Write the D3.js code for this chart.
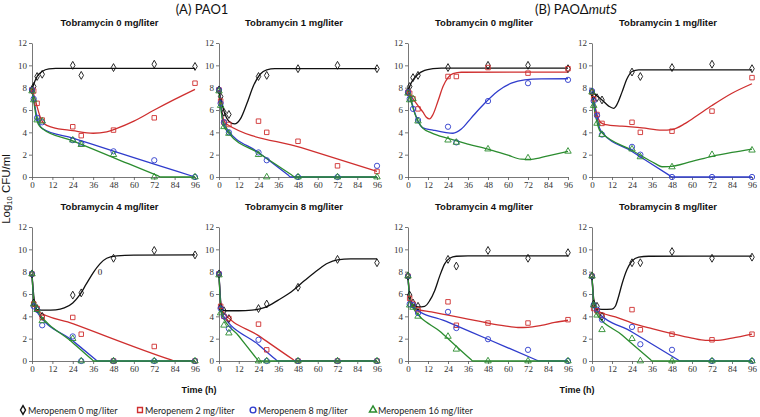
<!DOCTYPE html>
<html><head><meta charset="utf-8">
<script src="https://cdn.jsdelivr.net/npm/d3@7"></script>
<style>
html,body{margin:0;padding:0;background:#fff;}
svg{display:block;}
</style>
</head><body>
<svg id="chart" width="760" height="417"></svg>
<script>
// ---------------- DATA ----------------
const times = [0, 1, 3, 6, 24, 29, 48, 72, 96];
const xTicks = [0, 12, 24, 36, 48, 60, 72, 84, 96];
const yTicks = [0, 2, 4, 6, 8, 10, 12];
const panelTitles = [
  "Tobramycin 0 mg/liter", "Tobramycin 1 mg/liter", "Tobramycin 0 mg/liter", "Tobramycin 1 mg/liter",
  "Tobramycin 4 mg/liter", "Tobramycin 8 mg/liter", "Tobramycin 4 mg/liter", "Tobramycin 8 mg/liter"
];
const seriesNames = ["Meropenem 0 mg/liter", "Meropenem 2 mg/liter", "Meropenem 8 mg/liter", "Meropenem 16 mg/liter"];

// observed log10 CFU/ml per panel (panels: PAO1 T0, PAO1 T1, mutS T0, mutS T1, PAO1 T4, PAO1 T8, mutS T4, mutS T8)
const mer0 = [
  [7.8, 8.1, 9.0, 9.2, 10.0, 9.1, 9.8, 10.1, 9.9],
  [7.8, 7.2, 5.8, 5.6, 9.0, 9.1, 9.7, 10.0, 9.7],
  [7.6, 8.1, 8.9, 9.1, 9.8, null, 10.0, 10.0, 9.7],
  [7.6, 7.3, 7.1, 6.9, 9.4, 9.0, 9.8, 10.1, 9.7],
  [7.8, 5.2, 4.7, 4.0, 5.9, 6.1, 9.2, 9.9, 9.5],
  [7.8, 4.8, 4.5, 3.8, 4.7, 5.1, 6.6, 9.1, 8.8],
  [7.6, 5.9, 5.2, 4.9, 9.1, 8.5, 9.9, 9.2, 9.7],
  [7.6, 5.1, 4.9, 4.0, 8.8, 8.8, 9.8, 9.2, 9.3]
];
const mer2 = [
  [7.8, 7.7, 6.6, 5.1, 4.5, 3.7, 4.2, 5.3, 8.4],
  [7.8, 6.8, 4.9, 4.7, 5.0, 4.0, 3.2, 1.0, 0.5],
  [7.6, 7.5, 7.0, 6.1, 9.0, 9.0, 9.8, 9.3, 9.7],
  [7.6, 7.0, 5.6, 4.8, 4.9, 4.0, 4.1, 5.9, 8.9],
  [7.8, 5.1, 4.7, 3.9, 3.9, 2.4, 0, 1.3, 0],
  [7.8, 4.9, 4.0, 3.8, 3.3, 1.0, 0, 0, 0],
  [7.6, 5.6, 5.1, 4.6, 5.3, 3.2, 3.4, 3.4, 3.7],
  [7.6, 4.7, 4.5, 4.1, 4.6, 2.8, 2.4, 1.9, 2.4]
];
const mer8 = [
  [7.8, 7.0, 5.3, 4.9, 3.3, 3.0, 2.3, 1.5, 0],
  [7.8, 6.6, 4.9, 4.0, 2.2, 1.5, 0, 0, 1.0],
  [7.6, 7.0, 6.1, 5.1, 4.5, 3.1, 6.8, 8.4, 8.7],
  [7.7, 6.8, 5.5, 3.8, 2.7, 2.0, 0, 0, 0],
  [7.8, 4.9, 4.6, 3.2, 2.2, 0, 0, 0, 0],
  [7.8, 4.7, 4.0, 2.9, 1.9, 0, 0, 0, 0],
  [7.6, 5.1, 5.0, 4.3, 4.4, 2.95, 1.95, 1.0, 0],
  [7.6, 5.0, 4.6, 3.7, 3.05, 1.5, 1.0, 0, 0]
];
const mer16 = [
  [7.7, 6.9, 5.1, 5.0, 3.3, 2.9, 2.0, 0, 0],
  [7.7, 6.4, 4.5, 3.9, 2.0, 0, 0, 0, 0],
  [7.5, 6.9, 7.0, 5.0, 3.3, 3.1, 2.5, 1.7, 2.3],
  [7.6, 6.4, 4.8, 3.8, 2.5, 1.8, 0.9, 2.0, 2.4],
  [7.8, 5.1, 4.6, 3.6, 2.0, 0, 0, 0, 0],
  [7.7, 4.3, 3.2, 2.5, 0, 0, 0, 0, 0],
  [7.6, 5.0, 4.8, 4.0, 2.2, 1.05, 0, 0, 0],
  [7.6, 5.0, 4.1, 2.8, 2.0, 0, 0, 0, 0]
];

// fitted curves: [time, log10 CFU/ml] knots per panel
const mer0Fit = [
  [[0,7.8],[1,8.3],[3,9.0],[6,9.45],[10,9.68],[14,9.72],[96,9.72]],
  [[0,7.8],[1,7.1],[3,5.9],[6,5.0],[9.5,4.75],[13,5.2],[17,6.6],[21,8.2],[25,9.2],[29,9.6],[34,9.7],[96,9.7]],
  [[0,7.6],[1,8.1],[3,8.7],[6,9.2],[10,9.55],[15,9.7],[20,9.75],[96,9.75]],
  [[0,7.6],[3,7.25],[6,6.9],[10,6.35],[13,6.15],[15,6.5],[18,7.6],[21,8.8],[24,9.45],[28,9.6],[96,9.6]],
  [[0,7.8],[1,5.9],[2,4.9],[3,4.6],[8,4.55],[14,4.58],[19,4.75],[24,5.2],[28,5.9],[32,6.9],[36,7.9],[40,8.7],[44,9.2],[50,9.42],[60,9.48],[96,9.5]],
  [[0,7.8],[1,5.4],[2,4.6],[4,4.5],[12,4.5],[20,4.55],[28,4.8],[36,5.45],[44,6.2],[52,7.2],[60,8.15],[66,8.75],[72,9.05],[80,9.15],[96,9.15]],
  [[0,7.6],[1,5.8],[3,5.05],[6,4.85],[10,4.9],[13,5.4],[16,6.3],[19,7.6],[22,8.7],[25,9.2],[29,9.38],[36,9.42],[96,9.42]],
  [[0,7.6],[1,5.6],[2.5,4.75],[6,4.62],[12,4.65],[14,4.9],[16,5.8],[18,6.9],[21,8.2],[24,8.95],[28,9.3],[34,9.38],[96,9.4]]
];
const mer2Fit = [
  [[0,7.8],[1,7.4],[3,6.3],[5,5.3],[7,4.8],[12,4.45],[24,4.15],[36,3.92],[44,4.05],[50,4.35],[60,5.0],[72,6.0],[84,6.95],[96,7.85]],
  [[0,7.8],[1,6.6],[2,5.6],[3.5,4.9],[5,4.7],[50,2.62],[96,0.5]],
  [[0,7.6],[3,7.0],[6,6.4],[9,5.8],[11,5.35],[13,5.2],[15,5.6],[18,6.8],[21,8.1],[24,8.9],[27,9.25],[32,9.38],[96,9.4]],
  [[0,7.6],[1,6.9],[3,5.6],[5,4.9],[8,4.7],[18,4.55],[30,4.4],[42,4.2],[48,4.25],[56,4.8],[64,5.6],[72,6.4],[84,7.5],[96,8.35]],
  [[0,7.8],[0.7,6.0],[1.5,4.9],[2.5,4.55],[24,3.35],[82,0.1],[84,0],[96,0]],
  [[0,7.8],[0.6,6.0],[1.6,4.55],[24,2.27],[45,0.13],[46.3,0],[96,0]],
  [[0,7.6],[1,5.8],[2.5,5.0],[5,4.65],[14,4.4],[24,4.1],[36,3.75],[48,3.4],[58,3.15],[66,3.0],[72,3.02],[80,3.2],[88,3.45],[96,3.65]],
  [[0,7.6],[1,5.4],[2.5,4.6],[6,4.3],[14,3.95],[24,3.4],[36,2.9],[48,2.45],[60,2.05],[68,1.85],[74,1.85],[84,2.05],[96,2.4]]
];
const mer8Fit = [
  [[0,7.8],[1,7.0],[3,5.3],[4.5,4.65],[6,4.35],[24,3.48],[48,2.32],[72,1.16],[96,0]],
  [[0,7.8],[1,6.6],[2,5.3],[3,4.7],[4,4.45],[24,2.2],[42,0.17],[43.5,0],[96,0]],
  [[0,7.6],[2,6.8],[4,5.8],[6,5.0],[9,4.4],[15,4.2],[22,4.0],[27,3.92],[32,4.3],[38,5.3],[46,6.6],[54,7.7],[62,8.4],[70,8.7],[80,8.78],[96,8.8]],
  [[0,7.7],[1,6.8],[3,5.4],[4.5,4.4],[6,4.0],[24,2.29],[46,0.19],[48,0],[96,0]],
  [[0,7.8],[0.7,6.0],[1.5,4.8],[2.5,4.5],[24,1.81],[37,0.19],[38.5,0],[96,0]],
  [[0,7.8],[0.6,6.0],[1.6,4.3],[24,1.46],[34.3,0.15],[35.5,0],[96,0]],
  [[0,7.6],[0.8,5.8],[2,4.9],[24,3.49],[48,1.95],[77,0.09],[78.4,0],[96,0]],
  [[0,7.6],[0.8,5.6],[2,4.6],[24,2.6],[51.5,0.11],[52.7,0],[96,0]]
];
const mer16Fit = [
  [[0,7.7],[1,6.8],[3,5.0],[4.5,4.55],[6,4.35],[24,3.23],[48,1.74],[74,0.12],[76,0],[96,0]],
  [[0,7.7],[1,6.3],[2,5.2],[3,4.5],[4.5,4.2],[6,3.9],[24,2.15],[44,0.2],[46,0],[96,0]],
  [[0,7.5],[2,6.7],[4,5.7],[6,5.0],[9,4.35],[14,3.95],[24,3.45],[36,2.95],[48,2.5],[60,1.95],[68,1.6],[74,1.58],[84,1.9],[96,2.3]],
  [[0,7.6],[1,6.4],[3,4.9],[4.5,4.2],[6,3.95],[24,2.4],[38,1.2],[42,0.92],[46,0.93],[60,1.4],[72,1.85],[84,2.2],[96,2.5]],
  [[0,7.8],[0.7,6.0],[1.5,4.85],[3,4.5],[24,1.64],[35.3,0.13],[36.3,0],[96,0]],
  [[0,7.7],[0.6,5.8],[1.5,4.2],[12,2.24],[23.2,0.15],[24,0],[96,0]],
  [[0,7.6],[0.8,5.9],[2,5.0],[20,2.55],[37.8,0.13],[38.8,0],[96,0]],
  [[0,7.6],[0.8,5.6],[2,4.4],[18,2.33],[35,0.13],[36,0],[96,0]]
];
// stray "0" glyph printed in the PAO1 tobramycin 4 panel
const strayMark = { panel: 4, t: 40, v: 8.0, text: "0" };

// ---------------- LAYOUT / STYLE ----------------
const colRanges = [[32, 195], [219, 377], [408, 568], [592, 752]];
const rowRanges = [[177, 43], [361, 227]];
const panelPos = [[0,0],[1,0],[2,0],[3,0],[0,1],[1,1],[2,1],[3,1]];
const colors = ["#111111", "#cf2f2f", "#2f3ccc", "#2b8c2f"];
const symbols = [d3.symbolDiamond, d3.symbolSquare, d3.symbolCircle, d3.symbolTriangle];
const symSizes = [18, 20, 22, 18];
const allPoints = [mer0, mer2, mer8, mer16];
const allFits = [mer0Fit, mer2Fit, mer8Fit, mer16Fit];

const svg = d3.select("#chart");
svg.append("rect").attr("width", 760).attr("height", 417).attr("fill", "#fff");

const serif = "'Liberation Serif','Times New Roman',serif";
const sans = "'Liberation Sans',Arial,sans-serif";

panelPos.forEach(([c, r], p) => {
  const x = d3.scaleLinear().domain([0, 96]).range(colRanges[c]);
  const y = d3.scaleLinear().domain([0, 12]).range(rowRanges[r]);
  const g = svg.append("g");

  const xa = g.append("g").attr("transform", `translate(0,${y(0)})`)
    .call(d3.axisBottom(x).tickValues(xTicks).tickSize(3).tickSizeOuter(0).tickPadding(2));
  const ya = g.append("g").attr("transform", `translate(${x(0)},0)`)
    .call(d3.axisLeft(y).tickValues(yTicks).tickSize(3).tickSizeOuter(0).tickPadding(2));
  [xa, ya].forEach(a => {
    a.attr("font-family", serif);
    a.selectAll("path,line").attr("stroke", "#555").attr("stroke-width", 0.8);
    a.selectAll("text").style("font-family", serif).attr("font-size", 9).attr("fill", "#333");
  });

  g.append("text")
    .attr("x", (colRanges[c][0] + colRanges[c][1]) / 2 - 4)
    .attr("y", rowRanges[r][1] - 17)
    .attr("text-anchor", "middle")
    .attr("font-family", "'Liberation Sans Narrow','Liberation Sans',Arial,sans-serif")
    .attr("font-weight", "bold").attr("font-size", 9.5).attr("fill", "#111")
    .text(panelTitles[p]);

  const line = d3.line().x(d => x(d[0])).y(d => y(d[1])).curve(d3.curveMonotoneX);
  allFits.forEach((fits, s) => {
    g.append("path").attr("d", line(fits[p])).attr("fill", "none")
      .attr("stroke", colors[s]).attr("stroke-width", 1.3);
  });

  allPoints.forEach((pts, s) => {
    const data = times.map((t, i) => [t, pts[p][i]]).filter(d => d[1] !== null);
    g.selectAll(null).data(data).enter().append("path")
      .attr("d", d3.symbol().type(symbols[s]).size(symSizes[s]))
      .attr("transform", d => `translate(${x(d[0])},${y(d[1])})`)
      .attr("fill", "none").attr("stroke", colors[s]).attr("stroke-width", 0.9);
  });

  if (strayMark.panel === p) {
    g.append("text").attr("x", x(strayMark.t)).attr("y", y(strayMark.v) + 3)
      .attr("text-anchor", "middle").attr("font-family", serif).attr("font-size", 9)
      .attr("fill", "#222").text(strayMark.text);
  }
});

// headers
const hdrFont = "Lato,'Open Sans',sans-serif";
svg.append("text").attr("x", 202).attr("y", 14).attr("text-anchor", "middle")
  .attr("font-family", hdrFont).attr("font-size", 13).attr("fill", "#111").text("(A) PAO1");
const hB = svg.append("text").attr("x", 576).attr("y", 14).attr("text-anchor", "middle")
  .attr("font-family", hdrFont).attr("font-size", 13).attr("fill", "#111");
hB.append("tspan").text("(B) PAO\u0394");
hB.append("tspan").attr("font-style", "italic").text("mutS");

// axis titles
[199, 577].forEach(cx => {
  svg.append("text").attr("x", cx).attr("y", 393).attr("text-anchor", "middle")
    .attr("font-family", sans).attr("font-weight", "bold").attr("font-size", 9).attr("fill", "#111")
    .text("Time (h)");
});
const yl = svg.append("text").attr("transform", "translate(10,189) rotate(-90)")
  .attr("text-anchor", "middle").attr("font-family", sans).attr("font-size", 11.5).attr("fill", "#111");
yl.append("tspan").text("Log");
yl.append("tspan").attr("font-size", 7.5).attr("dy", 2).text("10");
yl.append("tspan").attr("dy", -2).text(" CFU/ml");

// legend
const legX = [23, 140, 253, 373];
seriesNames.forEach((name, s) => {
  svg.append("path").attr("d", d3.symbol().type(symbols[s]).size(symSizes[s] + 4))
    .attr("transform", `translate(${legX[s]},410)`)
    .attr("fill", "none").attr("stroke", colors[s]).attr("stroke-width", 1.4);
  svg.append("text").attr("x", legX[s] + 5).attr("y", 413.5)
    .attr("font-family", hdrFont).attr("font-size", 9).attr("fill", "#222").text(name);
});
</script>
</body></html>
